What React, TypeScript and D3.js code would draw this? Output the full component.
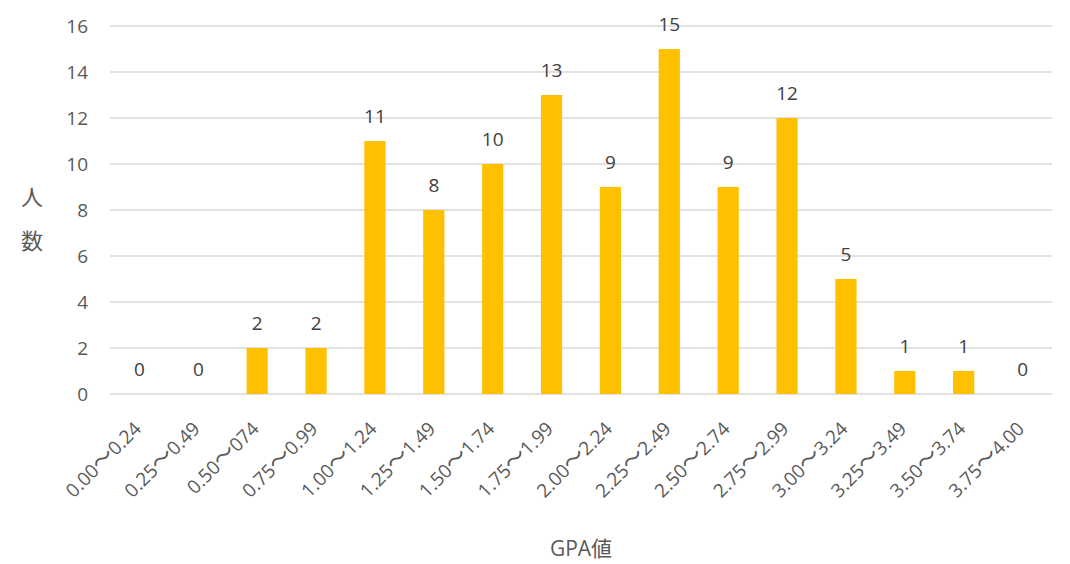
import { useRef, useEffect } from "react";
import * as d3 from "d3";

const categories = [
  "0.00～0.24", "0.25～0.49", "0.50～074", "0.75～0.99",
  "1.00～1.24", "1.25～1.49", "1.50～1.74", "1.75～1.99",
  "2.00～2.24", "2.25～2.49", "2.50～2.74", "2.75～2.99",
  "3.00～3.24", "3.25～3.49", "3.50～3.74", "3.75～4.00",
];
const counts = [0, 0, 2, 2, 11, 8, 10, 13, 9, 15, 9, 12, 5, 1, 1, 0];
const yTicks = [0, 2, 4, 6, 8, 10, 12, 14, 16];

const FONT = "'Open Sans', 'Noto Sans CJK JP', sans-serif";
const CJK = "'Noto Sans CJK JP', sans-serif";
const TEXT = "#595959";

export default function App() {
  const svgRef = useRef<SVGSVGElement>(null);

  useEffect(() => {
    const svg = d3.select(svgRef.current);
    svg.selectAll("*").remove();

    const left = 110, right = 1052, top = 26, bottom = 394;

    const x = d3.scaleBand().domain(categories).range([left, right]).paddingInner(0.64).paddingOuter(0.32);
    const y = d3.scaleLinear().domain([0, 16]).range([bottom, top]);

    // gridlines
    svg.append("g")
      .selectAll("line")
      .data(yTicks)
      .enter()
      .append("line")
      .attr("x1", left)
      .attr("x2", right)
      .attr("y1", (d) => y(d))
      .attr("y2", (d) => y(d))
      .attr("stroke", "#d9d9d9")
      .attr("stroke-width", 1.3);

    // y tick labels
    svg.append("g")
      .selectAll("text")
      .data(yTicks)
      .enter()
      .append("text")
      .attr("x", 88)
      .attr("y", (d) => y(d))
      .attr("dy", "0.36em")
      .attr("text-anchor", "end")
      .attr("font-family", FONT)
      .attr("font-size", 19)
      .attr("fill", TEXT)
      .text((d) => d);

    // bars
    svg.append("g")
      .selectAll("rect")
      .data(counts)
      .enter()
      .append("rect")
      .attr("x", (d, i) => x(categories[i])!)
      .attr("y", (d) => y(d))
      .attr("width", x.bandwidth())
      .attr("height", (d) => bottom - y(d))
      .attr("fill", "#ffc000");

    // value labels
    svg.append("g")
      .selectAll("text")
      .data(counts)
      .enter()
      .append("text")
      .attr("x", (d, i) => x(categories[i])! + x.bandwidth() / 2)
      .attr("y", (d) => y(d) - 18)
      .attr("text-anchor", "middle")
      .attr("font-family", FONT)
      .attr("font-size", 19)
      .attr("fill", "#404040")
      .text((d) => d);

    // x tick labels (tilde drawn in CJK font, as in the original)
    const xl = svg.append("g")
      .selectAll("text")
      .data(categories)
      .enter()
      .append("text")
      .attr("transform", (d) => {
        const cx = x(d)! + x.bandwidth() / 2 + 3;
        return `translate(${cx},${430}) rotate(-45)`;
      })
      .attr("text-anchor", "end")
      .attr("font-family", FONT)
      .attr("font-size", 19)
      .attr("fill", TEXT);
    xl.append("tspan").text((d) => d.split("～")[0]);
    xl.append("tspan").attr("font-family", CJK).attr("font-size", 22).text("～");
    xl.append("tspan").text((d) => d.split("～")[1]);

    // axis titles
    svg.append("text")
      .attr("x", 32)
      .attr("y", 205)
      .attr("text-anchor", "middle")
      .attr("font-family", CJK)
      .attr("font-size", 22)
      .attr("fill", TEXT)
      .text("人");
    svg.append("text")
      .attr("x", 32)
      .attr("y", 249)
      .attr("text-anchor", "middle")
      .attr("font-family", CJK)
      .attr("font-size", 22)
      .attr("fill", TEXT)
      .text("数");
    svg.append("text")
      .attr("x", 581)
      .attr("y", 556)
      .attr("text-anchor", "middle")
      .attr("font-family", FONT)
      .attr("font-size", 21)
      .attr("fill", TEXT)
      .text("GPA値");
  }, []);

  return (
    <svg
      ref={svgRef}
      width={1070}
      height={564}
      style={{ position: "absolute", left: 0, top: 0, background: "#fff" }}
    />
  );
}
